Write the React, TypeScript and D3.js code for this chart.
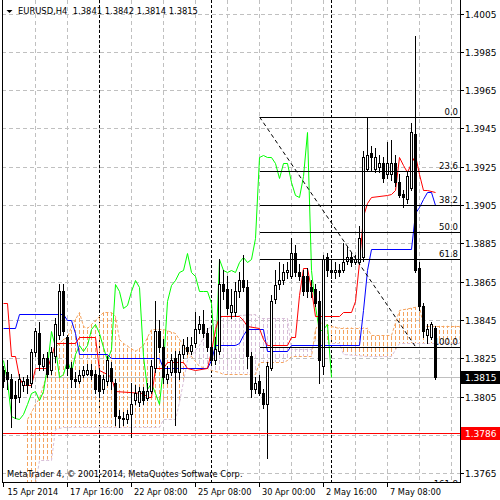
import React from 'react';
import * as d3 from 'd3';

// ---- data (EURUSD H4) ----
const opens = [1.3819,1.3818,1.3814,1.3806,1.3805,1.3811,1.3814,1.3812,1.3828,1.3838,
 1.3821,1.3825,1.3819,1.3826,1.3837,1.3860,1.3836,1.3820,1.3814,1.3813,
 1.3816,1.3817,1.3819,1.3817,1.3816,1.3809,1.3813,1.3820,1.3812,1.3795,
 1.3794,1.3793,1.3796,1.3803,1.3802,1.3808,1.3804,1.3808,1.3820,1.3839,
 1.3831,1.3814,1.3818,1.3825,1.3818,1.3827,1.3831,1.3829,1.3833,1.3840,
 1.3843,1.3838,1.3831,1.3824,1.3829,1.3864,1.3861,1.3849,1.3849,1.3860,
 1.3866,1.3862,1.3826,1.3809,1.3813,1.3807,1.3801,1.3820,1.3856,1.3864,
 1.3866,1.3870,1.3868,1.3880,1.3870,1.3868,1.3868,1.3862,1.3861,1.3855,
 1.3821,1.3878,1.3871,1.3870,1.3871,1.3871,1.3876,1.3878,1.3875,1.3875,
 1.3878,1.3924,1.3932,1.3924,1.3925,1.3927,1.3921,1.3921,1.3927,1.3917,
 1.3911,1.3908,1.3914,1.3942,1.3872,1.3852,1.3837,1.3836,1.3841];
const highs = [1.3821,1.3824,1.3817,1.3813,1.3817,1.3815,1.3816,1.3830,1.3841,1.3844,
 1.3827,1.3828,1.3831,1.3846,1.3864,1.3864,1.3837,1.3823,1.3818,1.3819,
 1.3821,1.3822,1.3822,1.3819,1.3820,1.3816,1.3826,1.3823,1.3814,1.3798,
 1.3797,1.3798,1.3812,1.3811,1.3810,1.3810,1.3812,1.3824,1.3855,1.3845,
 1.3835,1.3821,1.3827,1.3829,1.3829,1.3835,1.3836,1.3836,1.3849,1.3847,
 1.3850,1.3841,1.3842,1.3836,1.3877,1.3871,1.3868,1.3861,1.3865,1.3870,
 1.3879,1.3866,1.3828,1.3815,1.3816,1.3809,1.3823,1.3858,1.3871,1.3875,
 1.3874,1.3875,1.3888,1.3884,1.3874,1.3871,1.3872,1.3866,1.3864,1.3860,
 1.3879,1.3880,1.3875,1.3875,1.3874,1.3885,1.3883,1.3880,1.3879,1.3894,
 1.3933,1.3951,1.3936,1.3935,1.3931,1.3930,1.3938,1.3939,1.3931,1.3921,
 1.3913,1.3922,1.3948,1.3993,1.3875,1.3854,1.3843,1.3844,1.3842];
const lows = [1.3810,1.3809,1.3789,1.3794,1.3802,1.3808,1.3807,1.3810,1.3826,1.3819,
 1.3819,1.3815,1.3817,1.3823,1.3835,1.3837,1.3816,1.3810,1.3810,1.3812,
 1.3815,1.3816,1.3814,1.3807,1.3805,1.3807,1.3811,1.3809,1.3790,1.3789,
 1.3790,1.3791,1.3784,1.3801,1.3800,1.3801,1.3803,1.3807,1.3818,1.3828,
 1.3812,1.3812,1.3816,1.3790,1.3814,1.3825,1.3827,1.3827,1.3831,1.3838,
 1.3836,1.3829,1.3822,1.3822,1.3827,1.3856,1.3848,1.3846,1.3847,1.3857,
 1.3860,1.3820,1.3805,1.3807,1.3806,1.3799,1.3773,1.3819,1.3854,1.3861,
 1.3864,1.3867,1.3867,1.3868,1.3866,1.3858,1.3857,1.3857,1.3852,1.3812,
 1.3817,1.3868,1.3867,1.3867,1.3868,1.3870,1.3874,1.3873,1.3874,1.3874,
 1.3876,1.3923,1.3923,1.3922,1.3922,1.3917,1.3919,1.3918,1.3915,1.3909,
 1.3904,1.3906,1.3913,1.3870,1.3850,1.3836,1.3833,1.3835,1.3814];
const closes = [1.3813,1.3814,1.3804,1.3804,1.3814,1.3813,1.3811,1.3828,1.3839,1.3822,
 1.3825,1.3817,1.3828,1.3843,1.3860,1.3839,1.3820,1.3814,1.3813,1.3816,
 1.3819,1.3819,1.3816,1.3809,1.3808,1.3814,1.3824,1.3813,1.3795,1.3794,
 1.3793,1.3796,1.3801,1.3807,1.3808,1.3803,1.3808,1.3821,1.3839,1.3831,
 1.3815,1.3817,1.3824,1.3818,1.3827,1.3832,1.3829,1.3832,1.3840,1.3843,
 1.3838,1.3831,1.3824,1.3830,1.3864,1.3860,1.3851,1.3853,1.3860,1.3866,
 1.3862,1.3826,1.3809,1.3812,1.3807,1.3801,1.3821,1.3855,1.3863,1.3866,
 1.3870,1.3871,1.3880,1.3870,1.3868,1.3860,1.3860,1.3860,1.3854,1.3824,
 1.3877,1.3871,1.3870,1.3871,1.3870,1.3875,1.3878,1.3875,1.3877,1.3888,
 1.3930,1.3931,1.3930,1.3930,1.3927,1.3919,1.3927,1.3927,1.3917,1.3910,
 1.3909,1.3920,1.3943,1.3871,1.3852,1.3839,1.3840,1.3843,1.3815];

// Ichimoku lines: [bar, price]
const tenkanKnots: [number, number][] = [[0,1.3854],[1,1.3854],[2,1.3826],[3,1.3826],[4,1.3815],[5,1.3811],[7,1.3811],[8,1.3820],[11,1.3820],[12,1.3826],[13,1.3833],[18,1.3833],[19,1.3836],[23,1.3836],[24,1.3819],[26,1.3817],[27,1.3815],[28,1.3808],[35,1.3807],[36,1.3805],[37,1.3805],[38,1.3820],[40,1.3820],[41,1.3823],[45,1.3823],[46,1.3820],[48,1.3819],[51,1.3820],[52,1.3829],[53,1.3840],[54,1.3847],[59,1.3847],[60,1.3845],[61,1.3842],[64,1.3841],[65,1.3835],[66,1.3832],[71,1.3832],[72,1.3836],[73,1.3836],[74,1.3858],[75,1.3872],[76,1.3872],[77,1.3861],[78,1.3847],[84,1.3847],[85,1.3849],[87,1.3849],[88,1.3855],[89,1.3875],[90,1.3899],[91,1.3906],[92,1.3909],[96,1.3910],[97,1.3911],[98,1.3913],[99,1.3930],[100,1.3926],[101,1.3922],[102,1.3927],[103,1.3931],[104,1.3921],[105,1.3913],[106,1.3913],[108,1.3912]];
const kijunKnots: [number, number][] = [[0,1.3841],[3,1.3841],[4,1.3848],[15,1.3848],[16,1.3845],[17,1.3845],[18,1.3838],[19,1.3827],[26,1.3827],[27,1.3825],[39,1.3825],[40,1.3820],[51,1.3820],[52,1.3824],[53,1.3832],[58,1.3832],[59,1.3833],[60,1.3837],[61,1.3840],[65,1.3840],[66,1.3829],[71,1.3829],[72,1.3832],[89,1.3832],[90,1.3850],[91,1.3871],[92,1.3882],[102,1.3882],[103,1.3901],[104,1.3904],[105,1.3908],[106,1.3912],[107,1.3912],[108,1.3905]];
const cloudBars = [6,7,8,9,11,12,13,15,16,17,19,20,21,23,25,27,28,29,30,33,35,37,39,40,43,44,46,49,51,52,54,55,63,64,70,71,72,77,78,79,82,84,85,91,92,97,99,104,105,114];
const spanA = [1.3793,1.3797,1.3801,1.3804,1.3818,1.3826,1.3831,1.3835,1.3836,1.3842,1.3849,1.3842,1.3841,1.3845,1.3849,1.3849,1.3847,1.3835,1.3833,1.3829,1.3832,1.3840,1.3840,1.3840,1.3838,1.3835,1.3829,1.3821,1.3820,1.3819,1.3818,1.3817,1.3817,1.3823,1.3823,1.3824,1.3826,1.3826,1.3840,1.3844,1.3842,1.3841,1.3841,1.3841,1.3837,1.3837,1.3850,1.3852,1.3842,1.3842];
const spanB = [1.3759,1.3759,1.3759,1.3772,1.3772,1.3772,1.3788,1.3789,1.3789,1.3789,1.3789,1.3789,1.3789,1.3789,1.3789,1.3789,1.3789,1.3789,1.3789,1.3789,1.3789,1.3789,1.3789,1.3793,1.3793,1.3802,1.3824,1.3832,1.3840,1.3842,1.3846,1.3847,1.3848,1.3846,1.3846,1.3846,1.3830,1.3830,1.3835,1.3834,1.3833,1.3833,1.3827,1.3826,1.3826,1.3826,1.3833,1.3833,1.3833,1.3833];
const chikouShift = 26;

// Fibonacci retracement anchors and levels
const fibBars = [64, 103];
const fibPrices = [1.3951, 1.3831];
const fibLevels = [0, 23.6, 38.2, 50.0, 61.8, 100.0, 161.8];
const fibLabels = ['0.0', '23.6', '38.2', '50.0', '61.8', '100.0', '161.8'];

const hLinePrice = 1.3786;
const bidPrice = 1.3815;
const priceTicks = [1.4005,1.3985,1.3965,1.3945,1.3925,1.3905,1.3885,1.3865,1.3845,1.3825,1.3805,1.3785,1.3765];
const priceTickLabels = ['1.4005','1.3985','1.3965','1.3945','1.3925','1.3905','1.3885','1.3865','1.3845','1.3825','1.3805','1.3785','1.3765'];
const timeBars = [0, 16, 32, 48, 64, 80, 96];
const timeLabels = ['15 Apr 2014', '17 Apr 16:00', '22 Apr 08:00', '25 Apr 08:00', '30 Apr 00:00', '2 May 16:00', '7 May 08:00'];
const separatorBars = [24, 52, 82];
const title = 'EURUSD,H4  1.3841 1.3842 1.3814 1.3815';
const copyright = 'MetaTrader 4, \u00A9 2001-2014, MetaQuotes Software Corp.';

const FONT = 'DejaVu Sans';
type CP = { b: number; a: number; s: number };

export default function App() {
  const L = 2, R = 460, T = 0, B = 482;
  const x = d3.scaleLinear().domain([0, 1]).range([3.5, 7.5]);
  const y = d3.scaleLinear().domain([1.3765, 1.4005]).range([473.1, 13.5]);
  const py = (p: number) => Math.round(y(p)) + 0.5;

  const knotLine = d3.line<[number, number]>().x(d => x(d[0])).y(d => py(d[1]));
  const chikou: [number, number][] = closes.slice(chikouShift).map((c, i) => [i, c]);

  const cloud: CP[] = cloudBars.map((b, i) => ({ b, a: spanA[i], s: spanB[i] }));
  const cloudExt: CP[] = [{ ...cloud[0], b: cloud[0].b - 0.6 }, ...cloud];
  const areaAB = d3.area<CP>().x(d => x(d.b)).y0(d => y(d.s)).y1(d => y(d.a));
  const ext: CP[] = [{ ...cloud[0], b: cloud[0].b - 3 }, ...cloud, { ...cloud[cloud.length - 1], b: cloud[cloud.length - 1].b + 10 }];
  const areaAbove = d3.area<CP>().x(d => x(d.b)).y0(d => y(d.s)).y1(-10);
  const areaBelow = d3.area<CP>().x(d => x(d.b)).y0(d => y(d.s)).y1(600);
  const lineA = d3.line<CP>().x(d => x(d.b)).y(d => py(d.a));
  const lineB = d3.line<CP>().x(d => x(d.b)).y(d => py(d.s));
  const histBars = d3.range(cloudBars[0], cloudBars[cloudBars.length - 1] + 1);

  const gridXs: number[] = [];
  for (let b = 8; x(b) < R; b += 8) gridXs.push(b);

  const fibX0 = x(fibBars[0]);
  const fibRange = fibPrices[0] - fibPrices[1];

  const hy = py(hLinePrice);
  const by = py(bidPrice);

  return (
    <svg width={500} height={500} style={{ position: 'absolute', left: 0, top: 0, background: '#fff' }} fontFamily={FONT}>
      <defs>
        <clipPath id="plot"><rect x={L + 0.5} y={T} width={R - L - 0.5} height={B - T} /></clipPath>
        <clipPath id="cloudAB"><path d={areaAB(cloudExt) || ''} /></clipPath>
        <clipPath id="above"><path d={areaAbove(ext) || ''} /></clipPath>
        <clipPath id="below"><path d={areaBelow(ext) || ''} /></clipPath>
      </defs>
      <rect x={0} y={0} width={500} height={500} fill="#fff" />
      <g clipPath="url(#plot)">
        {/* grid */}
        {priceTicks.map((p, i) => (
          <line key={'hg' + i} x1={L} x2={R} y1={py(p)} y2={py(p)} stroke="#C0C0C0" strokeDasharray="4,3" shapeRendering="crispEdges" />
        ))}
        {gridXs.map(b => (
          <line key={'vg' + b} x1={x(b)} x2={x(b)} y1={T} y2={B} stroke="#C0C0C0" strokeDasharray="4,3" shapeRendering="crispEdges" />
        ))}
        {separatorBars.map(b => (
          <line key={'sep' + b} x1={x(b)} x2={x(b)} y1={T} y2={B} stroke="#000" strokeDasharray="3,2" shapeRendering="crispEdges" />
        ))}
        {/* cloud histogram: dotted bar lines clipped to the span area */}
        <g clipPath="url(#cloudAB)">
          <g clipPath="url(#above)">
            {histBars.map(b => (
              <line key={'ho' + b} x1={x(b)} x2={x(b)} y1={0} y2={B} stroke="#F4A460" strokeDasharray="4,2" shapeRendering="crispEdges" />
            ))}
          </g>
          <g clipPath="url(#below)">
            {histBars.map(b => (
              <line key={'ht' + b} x1={x(b)} x2={x(b)} y1={0} y2={B} stroke="#D8BFD8" strokeDasharray="4,2" shapeRendering="crispEdges" />
            ))}
          </g>
        </g>
        <path d={lineB(cloud) || ''} fill="none" stroke="#D8BFD8" strokeDasharray="3,2" />
        <path d={lineA(cloud) || ''} fill="none" stroke="#F4A460" strokeDasharray="3,2" />
        {/* bid line */}
        <line x1={L} x2={R} y1={by} y2={by} stroke="#C0C0C0" shapeRendering="crispEdges" />
        {/* ichimoku lines */}
        <path d={knotLine(chikou) || ''} fill="none" stroke="#00FF00" strokeWidth={1} />
        <path d={knotLine(kijunKnots) || ''} fill="none" stroke="#0000FF" strokeWidth={1} />
        <path d={knotLine(tenkanKnots) || ''} fill="none" stroke="#FF0000" strokeWidth={1} />
        {/* candles */}
        {opens.map((o, i) => {
          const c = closes[i];
          const cx = x(i);
          const yo = Math.round(y(o)), yc = Math.round(y(c));
          const yh = Math.round(y(highs[i])), yl = Math.round(y(lows[i]));
          const top = Math.min(yo, yc), bot = Math.max(yo, yc);
          return (
            <g key={'c' + i} shapeRendering="crispEdges">
              <line x1={cx} x2={cx} y1={yh} y2={yl + 1} stroke="#000" />
              {c >= o ? (
                <rect x={cx - 1} y={top + 0.5} width={2} height={Math.max(bot - top, 1)} fill="#fff" stroke="#000" />
              ) : (
                <rect x={cx - 1.5} y={top} width={3} height={Math.max(bot - top + 1, 1)} fill="#000" />
              )}
            </g>
          );
        })}
        {/* fibonacci */}
        <line x1={fibX0} y1={y(fibPrices[0])} x2={x(fibBars[1])} y2={y(fibPrices[1])} stroke="#000" strokeDasharray="4,3" />
        {fibLevels.map((lv, i) => {
          const ly = py(fibPrices[0] - fibRange * lv / 100);
          return (
            <g key={'fib' + i}>
              <line x1={fibX0} x2={R} y1={ly} y2={ly} stroke="#000" shapeRendering="crispEdges" />
              <text x={458} y={ly - 3} textAnchor="end" fontSize={8.5} fill="#000">{fibLabels[i]}</text>
            </g>
          );
        })}
        {/* horizontal line */}
        <line x1={L} x2={R} y1={hy} y2={hy} stroke="#FF0000" shapeRendering="crispEdges" />
        {/* copyright */}
        <text x={7} y={477} fontSize={8.3} fill="#000">{copyright}</text>
      </g>
      {/* frame */}
      <g shapeRendering="crispEdges">
        <line x1={L + 0.5} x2={L + 0.5} y1={T} y2={B + 0.5} stroke="#000" />
        <line x1={R + 0.5} x2={R + 0.5} y1={T} y2={B + 0.5} stroke="#000" />
        <line x1={L} x2={R + 1} y1={B + 0.5} y2={B + 0.5} stroke="#000" />
      </g>
      {/* price axis */}
      {priceTicks.map((p, i) => {
        const ty = py(p);
        const hidden = Math.abs(ty - hy) < 9 || Math.abs(ty - by) < 9;
        return (
          <g key={'pt' + i}>
            <line x1={R} x2={R + 4} y1={ty} y2={ty} stroke="#000" shapeRendering="crispEdges" />
            {!hidden && <text x={465} y={ty} dy="0.35em" fontSize={9} fill="#000">{priceTickLabels[i]}</text>}
          </g>
        );
      })}
      <rect x={461} y={by - 6.5} width={39} height={13} fill="#000" />
      <text x={465} y={by} dy="0.35em" fontSize={9} fill="#fff">{bidPrice.toFixed(4)}</text>
      <rect x={461} y={hy - 6.5} width={39} height={13} fill="#FF0000" />
      <text x={465} y={hy} dy="0.35em" fontSize={9} fill="#fff">{hLinePrice.toFixed(4)}</text>
      {/* time axis */}
      {timeBars.map((b, i) => (
        <g key={'tt' + i}>
          <line x1={x(b)} x2={x(b)} y1={B} y2={B + 5} stroke="#000" shapeRendering="crispEdges" />
          <text x={x(b) + (i === 0 ? 4 : 2.5)} y={495} fontSize={8.2} fill="#000">{timeLabels[i]}</text>
        </g>
      ))}
      {/* title */}
      <path d="M6.5,10 L12.5,10 L9.5,13 Z" fill="#000" />
      <text x={18} y={14} fontSize={8.4} fill="#000" style={{ whiteSpace: 'pre' }}>{title}</text>
    </svg>
  );
}
